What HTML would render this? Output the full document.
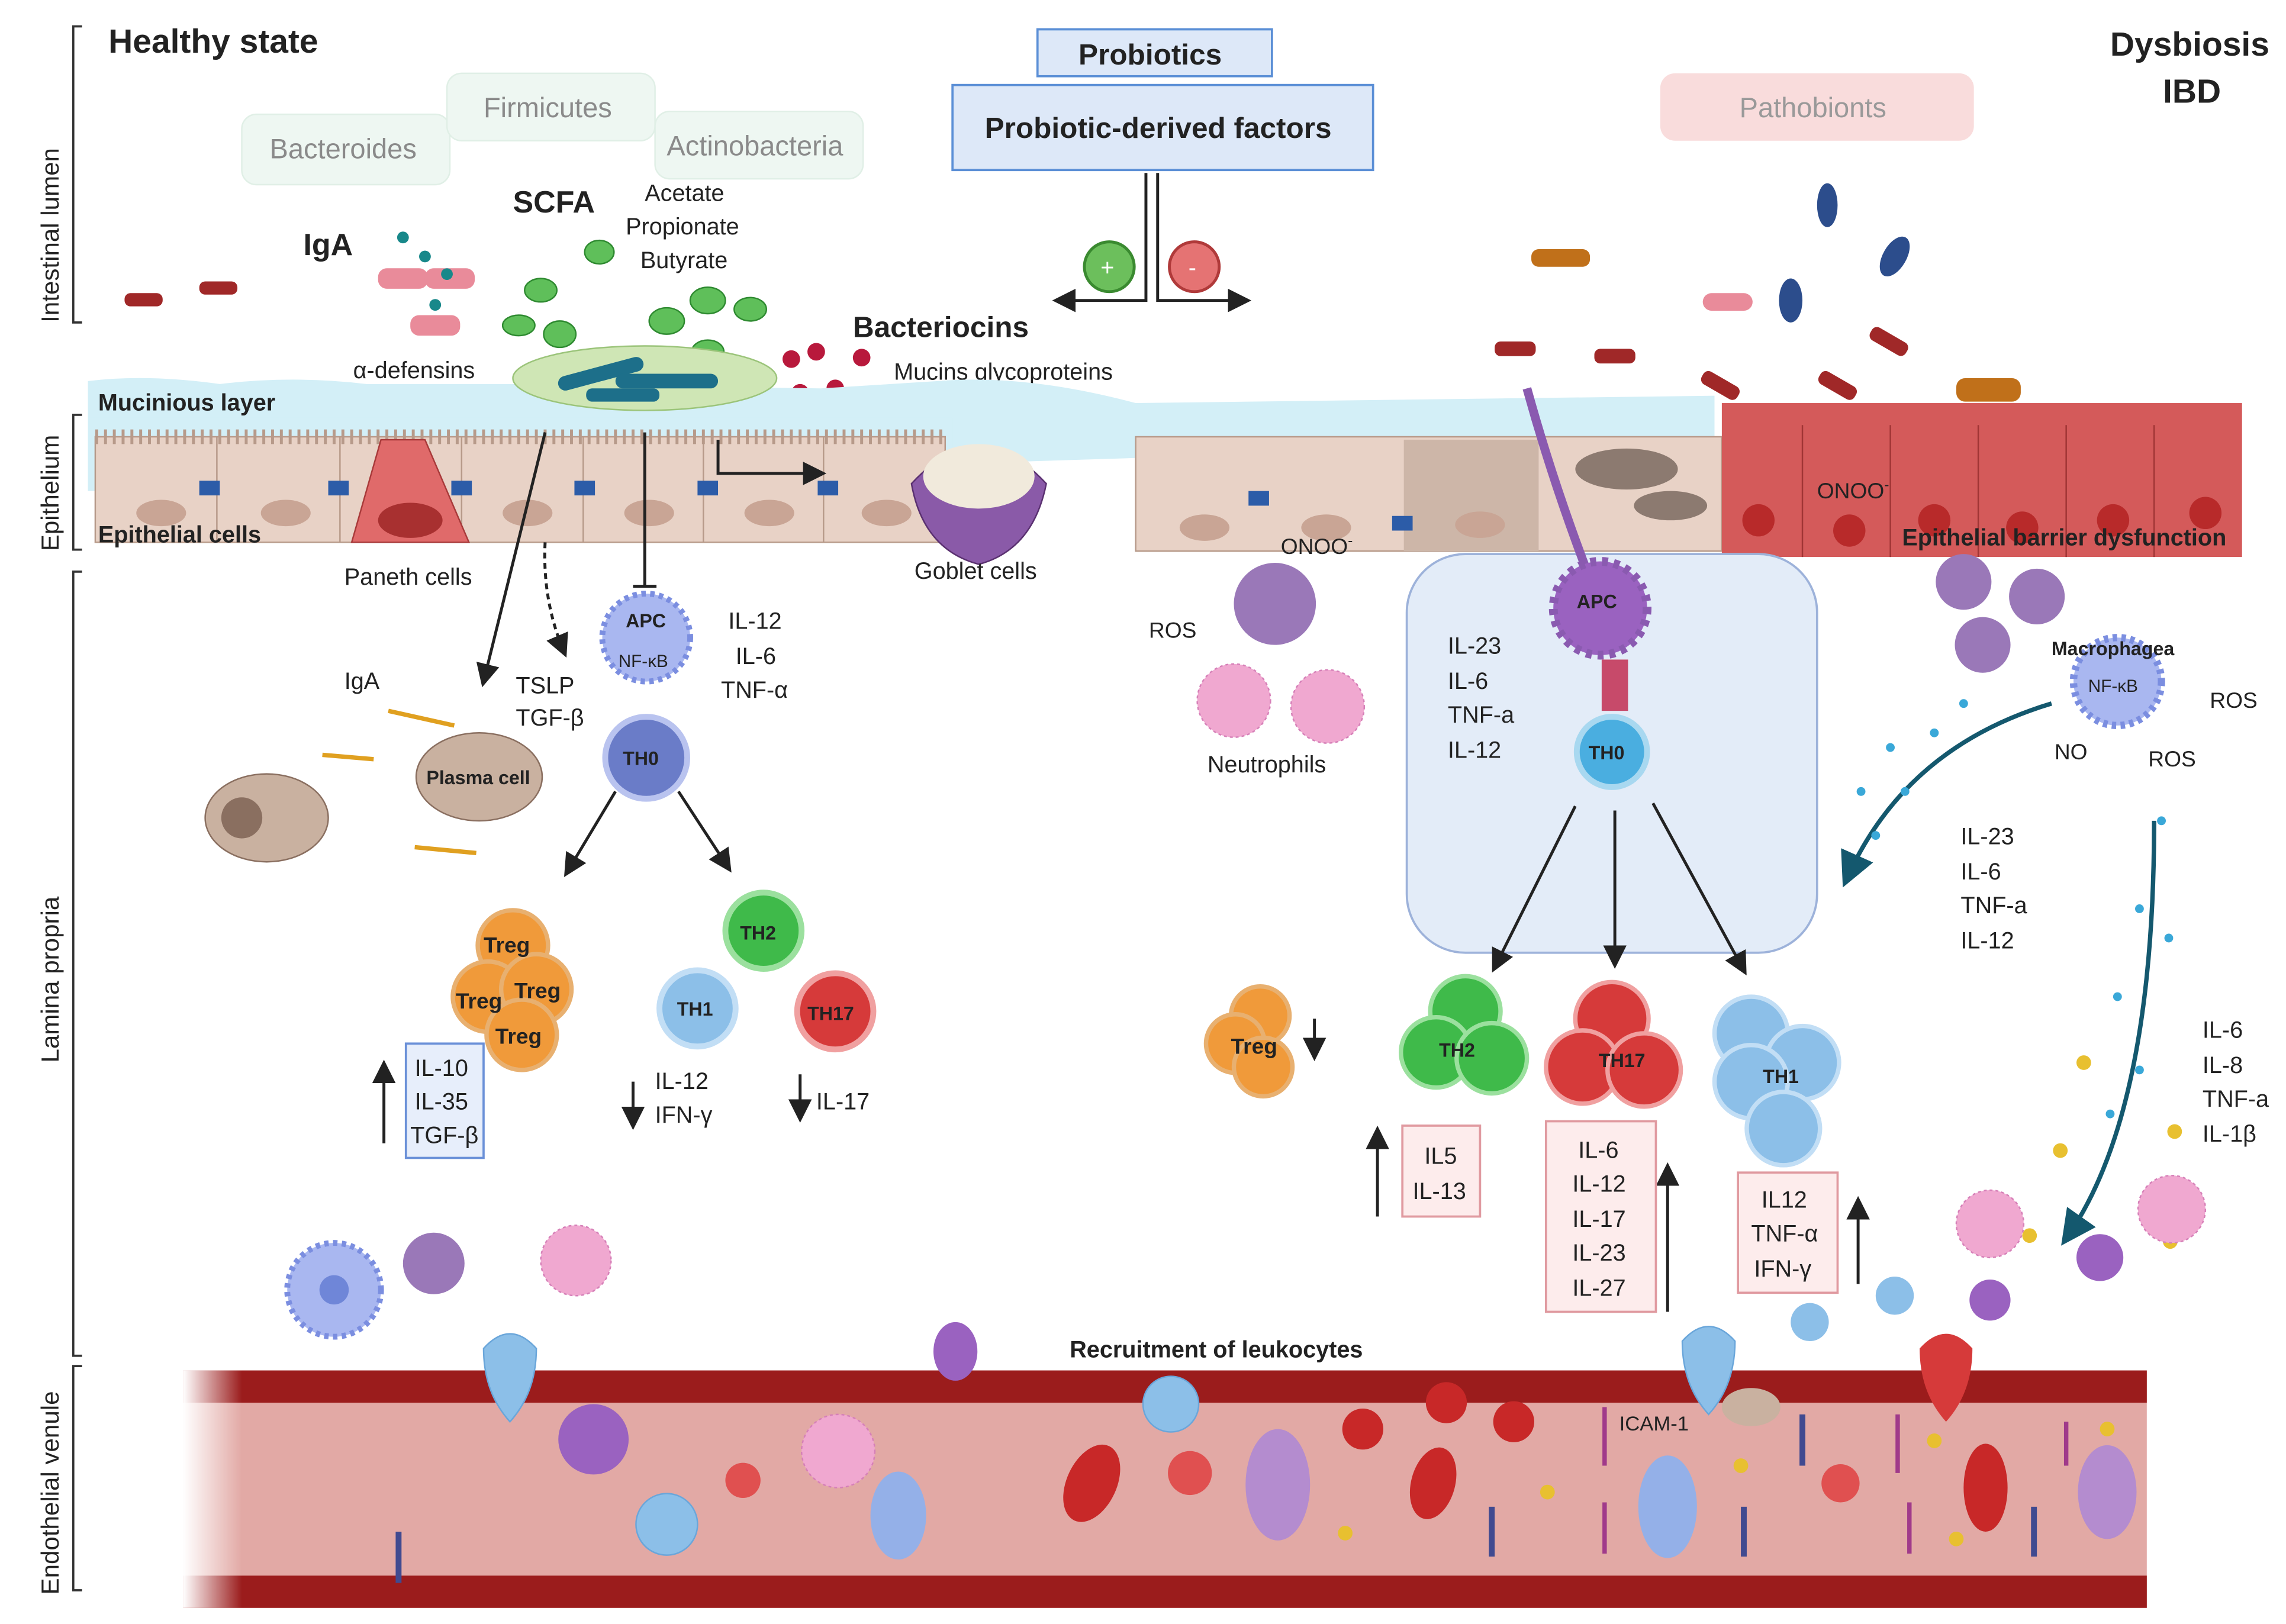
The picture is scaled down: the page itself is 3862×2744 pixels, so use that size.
<!DOCTYPE html>
<html><head><meta charset="utf-8"><style>
html,body{margin:0;padding:0;background:#fff;}
svg{display:block;}
text{font-family:"Liberation Sans",sans-serif;fill:#222;}
.b{font-weight:bold;}
</style></head><body>
<svg width="3862" height="2744" viewBox="0 0 1560 1108" preserveAspectRatio="none" xmlns="http://www.w3.org/2000/svg">
<defs>
<linearGradient id="vfade" x1="0" x2="1" y1="0" y2="0"><stop offset="0" stop-color="#fff" stop-opacity="1"/><stop offset="0.03" stop-color="#fff" stop-opacity="0"/></linearGradient>
<marker id="ar" markerWidth="8" markerHeight="8" refX="6" refY="4" orient="auto"><path d="M0,0 L8,4 L0,8 z" fill="#222"/></marker>
<marker id="art" markerWidth="8" markerHeight="8" refX="6" refY="4" orient="auto"><path d="M0,0 L8,4 L0,8 z" fill="#14586e"/></marker>
</defs>
<rect width="1560" height="1108" fill="#fff"/>
<!-- left axis -->
<g stroke="#333" stroke-width="1.5" fill="none">
<path d="M56,18 H50 V220 H56"/><path d="M56,283 H50 V375 H56"/><path d="M56,390 H50 V925 H56"/><path d="M56,932 H50 V1085 H56"/>
</g>
<text transform="translate(40,220) rotate(-90)" font-size="17">Intestinal lumen</text>
<text transform="translate(40,376) rotate(-90)" font-size="17">Epithelium</text>
<text transform="translate(40,725) rotate(-90)" font-size="17">Lamina propria</text>
<text transform="translate(40,1088) rotate(-90)" font-size="17">Endothelial  venule</text>
<text x="74" y="36" font-size="23" class="b">Healthy state</text>
<text x="1440" y="38" font-size="23" class="b">Dysbiosis</text>
<text x="1476" y="70" font-size="23" class="b">IBD</text>
<!-- bacteria label boxes -->
<rect x="165" y="78" width="142" height="48" rx="10" fill="#eef7f2" stroke="#e0efe6"/>
<text x="184" y="108" font-size="19" fill="#888" style="fill:#8a8a8a">Bacteroides</text>
<rect x="305" y="50" width="142" height="46" rx="10" fill="#eef7f2" stroke="#e0efe6"/>
<text x="330" y="80" font-size="19" style="fill:#8a8a8a">Firmicutes</text>
<rect x="447" y="76" width="142" height="46" rx="10" fill="#eef7f2" stroke="#e0efe6"/>
<text x="455" y="106" font-size="19" style="fill:#8a8a8a">Actinobacteria</text>
<rect x="1133" y="50" width="214" height="46" rx="10" fill="#f9dcdc"/>
<text x="1187" y="80" font-size="19" style="fill:#999">Pathobionts</text>
<!-- probiotics -->
<rect x="708" y="20" width="160" height="32" fill="#dde8f8" stroke="#5b8fd6" stroke-width="1.5"/>
<text x="736" y="44" font-size="20" class="b">Probiotics</text>
<rect x="650" y="58" width="287" height="58" fill="#dde8f8" stroke="#5b8fd6" stroke-width="1.5"/>
<text x="672" y="94" font-size="20" class="b">Probiotic-derived factors</text>
<g stroke="#222" stroke-width="2" fill="none">
<path d="M782,118 V205 H722" marker-end="url(#ar)"/><path d="M790,118 V205 H850" marker-end="url(#ar)"/>
</g>
<circle cx="757" cy="182" r="17" fill="#6cbf5c" stroke="#3a8a30" stroke-width="2"/><text x="751" y="188" font-size="16" style="fill:#fff">+</text>
<circle cx="815" cy="182" r="17" fill="#e57373" stroke="#b03a3a" stroke-width="2"/><text x="811" y="188" font-size="16" style="fill:#fff">-</text>
<!-- text labels lumen -->
<text x="207" y="174" font-size="21" class="b">IgA</text>
<text x="350" y="145" font-size="21" class="b">SCFA</text>
<text x="440" y="137" font-size="16">Acetate</text>
<text x="427" y="160" font-size="16">Propionate</text>
<text x="437" y="183" font-size="16">Butyrate</text>
<text x="582" y="230" font-size="20" class="b">Bacteriocins</text>
<text x="610" y="259" font-size="16">Mucins glycoproteins</text>
<text x="241" y="258" font-size="16">α-defensins</text>
<!-- bacteria -->
<g fill="#a02828">
<rect x="85" y="200" width="26" height="9" rx="4"/><rect x="136" y="192" width="26" height="9" rx="4"/>
<rect x="1020" y="233" width="28" height="10" rx="4"/><rect x="1088" y="238" width="28" height="10" rx="4"/>
<rect x="1160" y="258" width="28" height="10" rx="4" transform="rotate(30 1174 263)"/>
<rect x="1240" y="258" width="28" height="10" rx="4" transform="rotate(30 1254 263)"/>
<rect x="1275" y="228" width="28" height="10" rx="4" transform="rotate(30 1289 233)"/>
</g>
<rect x="1045" y="170" width="40" height="12" rx="5" fill="#c0701a"/>
<rect x="1335" y="258" width="44" height="16" rx="6" fill="#c0701a"/>
<rect x="1162" y="200" width="34" height="12" rx="6" fill="#e98b9a"/>
<g fill="#2c4d8c"><ellipse cx="1247" cy="140" rx="7" ry="15"/><ellipse cx="1222" cy="205" rx="8" ry="15"/><ellipse cx="1293" cy="175" rx="8" ry="15" transform="rotate(30 1293 175)"/></g>
<g fill="#e98b9a"><rect x="258" y="183" width="34" height="14" rx="6"/><rect x="290" y="183" width="34" height="14" rx="6"/><rect x="280" y="215" width="34" height="14" rx="6"/></g>
<g fill="#18888a"><circle cx="275" cy="162" r="4"/><circle cx="290" cy="175" r="4"/><circle cx="305" cy="187" r="4"/><circle cx="297" cy="208" r="4"/><circle cx="270" cy="275" r="4"/><circle cx="290" cy="292" r="4"/><circle cx="280" cy="305" r="4"/></g>
<g fill="#5fbf5a" stroke="#2e8a30"><ellipse cx="369" cy="198" rx="11" ry="8"/><ellipse cx="409" cy="172" rx="10" ry="8"/><ellipse cx="354" cy="222" rx="11" ry="7"/><ellipse cx="382" cy="228" rx="11" ry="9"/><ellipse cx="455" cy="219" rx="12" ry="9"/><ellipse cx="483" cy="205" rx="12" ry="9"/><ellipse cx="512" cy="211" rx="11" ry="8"/><ellipse cx="483" cy="240" rx="11" ry="8"/></g>
<g fill="#b8193c"><circle cx="540" cy="245" r="6"/><circle cx="557" cy="240" r="6"/><circle cx="570" cy="265" r="6"/><circle cx="546" cy="268" r="6"/><circle cx="588" cy="244" r="6"/></g>
<!-- mucus layer -->
<path d="M60,260 Q100,255 150,262 Q200,256 250,262 L350,262 L560,265 L640,260 Q700,255 775,275 L1170,270 L1170,300 L60,335 Z" fill="#d3eff7"/>
<rect x="60" y="285" width="590" height="50" fill="#d3eff7"/>
<text x="67" y="280" font-size="16" class="b">Mucinious layer</text>
<!-- epithelium left -->
<rect x="65" y="298" width="580" height="72" fill="#e8d2c6" stroke="#b79a8a"/>
<g stroke="#b79a8a"><line x1="148" y1="298" x2="148" y2="370"/><line x1="232" y1="298" x2="232" y2="370"/><line x1="315" y1="298" x2="315" y2="370"/><line x1="398" y1="298" x2="398" y2="370"/><line x1="480" y1="298" x2="480" y2="370"/><line x1="562" y1="298" x2="562" y2="370"/></g>
<g fill="#c9a595"><ellipse cx="110" cy="350" rx="17" ry="9"/><ellipse cx="195" cy="350" rx="17" ry="9"/><ellipse cx="360" cy="350" rx="17" ry="9"/><ellipse cx="443" cy="350" rx="17" ry="9"/><ellipse cx="525" cy="350" rx="17" ry="9"/><ellipse cx="605" cy="350" rx="17" ry="9"/></g>
<path d="M65,298 h580" stroke="#b79a8a" stroke-width="10" stroke-dasharray="2,4"/>
<path d="M240,370 L260,300 L290,300 L320,370 Z" fill="#e06a6a" stroke="#a83a3a"/><ellipse cx="280" cy="355" rx="22" ry="12" fill="#a83030"/>
<path d="M622,330 Q668,280 714,330 Q705,375 668,385 Q630,375 622,330Z" fill="#8a5aa8" stroke="#5a3070"/><ellipse cx="668" cy="325" rx="38" ry="22" fill="#f1eadc"/>
<text x="67" y="370" font-size="16" class="b">Epithelial cells</text>
<text x="235" y="399" font-size="16">Paneth cells</text>
<text x="624" y="395" font-size="16">Goblet cells</text>
<!-- SCFA bacteria blob -->
<ellipse cx="440" cy="258" rx="90" ry="22" fill="#cfe6b5" stroke="#9bc47a"/>
<g fill="#1d6f8a"><rect x="380" y="250" width="60" height="10" rx="5" transform="rotate(-15 410 255)"/><rect x="420" y="255" width="70" height="10" rx="5"/><rect x="400" y="265" width="50" height="9" rx="4"/></g>
<!-- epithelium right -->
<rect x="775" y="298" width="400" height="78" fill="#e8d2c6" stroke="#b79a8a"/>
<rect x="958" y="300" width="92" height="76" fill="#cdb6a8"/>
<g fill="#c9a595"><ellipse cx="822" cy="360" rx="17" ry="9"/><ellipse cx="905" cy="360" rx="17" ry="9"/><ellipse cx="1010" cy="358" rx="17" ry="9"/></g>
<g fill="#8c7a70"><ellipse cx="1110" cy="320" rx="35" ry="14"/><ellipse cx="1140" cy="345" rx="25" ry="10"/></g>
<rect x="1175" y="275" width="355" height="105" fill="#d45a5a"/>
<g stroke="#a03535"><line x1="1230" y1="290" x2="1230" y2="380"/><line x1="1290" y1="290" x2="1290" y2="380"/><line x1="1350" y1="290" x2="1350" y2="380"/><line x1="1410" y1="290" x2="1410" y2="380"/><line x1="1470" y1="290" x2="1470" y2="380"/></g>
<g fill="#b82a2a"><circle cx="1200" cy="355" r="11"/><circle cx="1262" cy="362" r="11"/><circle cx="1320" cy="355" r="11"/><circle cx="1380" cy="360" r="11"/><circle cx="1442" cy="355" r="11"/><circle cx="1505" cy="350" r="11"/></g>
<text x="1240" y="340" font-size="15">ONOO<tspan font-size="10" dy="-6">-</tspan></text>
<text x="1298" y="372" font-size="16" class="b">Epithelial barrier dysfunction</text>
<!-- arrows healthy -->
<g stroke="#222" stroke-width="2" fill="none">
<line x1="372" y1="295" x2="330" y2="465" marker-end="url(#ar)"/>
<path d="M372,370 Q370,410 385,445" stroke-dasharray="4,3" marker-end="url(#ar)"/>
<line x1="440" y1="295" x2="440" y2="400"/><line x1="432" y1="400" x2="448" y2="400"/>
<path d="M490,300 V323 H560" marker-end="url(#ar)"/>
<line x1="420" y1="540" x2="387" y2="595" marker-end="url(#ar)"/><line x1="463" y1="540" x2="497" y2="592" marker-end="url(#ar)"/>
<line x1="262" y1="780" x2="262" y2="727" marker-end="url(#ar)"/>
<line x1="432" y1="738" x2="432" y2="767" marker-end="url(#ar)"/>
<line x1="546" y1="733" x2="546" y2="762" marker-end="url(#ar)"/>
<line x1="940" y1="830" x2="940" y2="772" marker-end="url(#ar)"/>
<line x1="1138" y1="895" x2="1138" y2="797" marker-end="url(#ar)"/>
<line x1="1268" y1="876" x2="1268" y2="820" marker-end="url(#ar)"/>
<line x1="897" y1="695" x2="897" y2="720" marker-end="url(#ar)"/>
</g>
<!-- APC healthy -->
<circle cx="441" cy="435" r="30" fill="#a9b7f0" stroke="#7b8ee0" stroke-width="4" stroke-dasharray="3,3"/>
<text x="427" y="428" font-size="13" class="b">APC</text><text x="422" y="455" font-size="12">NF-κB</text>
<text x="497" y="429" font-size="16">IL-12</text><text x="502" y="453" font-size="16">IL-6</text><text x="492" y="476" font-size="16">TNF-α</text>
<text x="352" y="473" font-size="16">TSLP</text><text x="352" y="495" font-size="16">TGF-β</text>
<text x="235" y="470" font-size="16">IgA</text>
<circle cx="441" cy="517" r="28" fill="#6a7cc8" stroke="#b9c3ef" stroke-width="4"/><text x="425" y="522" font-size="13" class="b">TH0</text>
<ellipse cx="182" cy="558" rx="42" ry="30" fill="#c9b1a0" stroke="#8a6f60"/><circle cx="165" cy="558" r="14" fill="#8a6f60"/>
<ellipse cx="327" cy="530" rx="43" ry="30" fill="#c9b1a0" stroke="#8a6f60"/><text x="291" y="535" font-size="13" class="b">Plasma cell</text>
<g stroke="#e0a020" stroke-width="3"><line x1="265" y1="485" x2="310" y2="495"/><line x1="220" y1="515" x2="255" y2="518"/><line x1="283" y1="578" x2="325" y2="582"/></g>
<!-- Tregs -->
<g fill="#f09a3a" stroke="#e8b070" stroke-width="3"><circle cx="350" cy="645" r="24"/><circle cx="333" cy="680" r="24"/><circle cx="366" cy="675" r="24"/><circle cx="356" cy="706" r="24"/></g>
<text x="330" y="650" font-size="15" class="b">Treg</text><text x="311" y="688" font-size="15" class="b">Treg</text><text x="351" y="681" font-size="15" class="b">Treg</text><text x="338" y="712" font-size="15" class="b">Treg</text>
<rect x="277" y="712" width="53" height="78" fill="#e7eefb" stroke="#6a90d8" stroke-width="1.5"/>
<text x="283" y="734" font-size="16">IL-10</text><text x="283" y="757" font-size="16">IL-35</text><text x="280" y="780" font-size="16">TGF-β</text>
<circle cx="521" cy="635" r="26" fill="#3fba4a" stroke="#9be09e" stroke-width="4"/><text x="505" y="641" font-size="13" class="b">TH2</text>
<circle cx="476" cy="688" r="26" fill="#8cbfe8" stroke="#c2def5" stroke-width="4"/><text x="462" y="693" font-size="13" class="b">TH1</text>
<circle cx="570" cy="690" r="26" fill="#d63a3a" stroke="#f0a0a0" stroke-width="4"/><text x="551" y="696" font-size="13" class="b">TH17</text>
<text x="447" y="743" font-size="16">IL-12</text><text x="447" y="766" font-size="16">IFN-γ</text><text x="557" y="757" font-size="16">IL-17</text>
<!-- lamina cells -->
<circle cx="228" cy="880" r="32" fill="#a9b7f0" stroke="#7b8ee0" stroke-width="4" stroke-dasharray="3,3"/><circle cx="228" cy="880" r="10" fill="#6f86d8"/>
<circle cx="296" cy="862" r="21" fill="#9a78b8"/>
<circle cx="393" cy="860" r="24" fill="#f0a8d0" stroke="#d680b8" stroke-dasharray="2,2"/>
<!-- Dysbiosis side -->
<rect x="960" y="378" width="280" height="272" rx="40" fill="#e3ecf8" stroke="#9db2da" stroke-width="1.5"/>
<path d="M1042,265 Q1060,330 1085,395" stroke="#8a5ab0" stroke-width="6" fill="none"/>
<circle cx="1092" cy="415" r="32" fill="#9a62c0" stroke="#8a5ab0" stroke-width="6" stroke-dasharray="4,4"/><text x="1076" y="415" font-size="13" class="b">APC</text>
<rect x="1093" y="450" width="18" height="35" fill="#c74a6a"/>
<circle cx="1100" cy="513" r="24" fill="#4aaee0" stroke="#a8d8f0" stroke-width="4"/><text x="1084" y="518" font-size="13" class="b">TH0</text>
<text x="988" y="446" font-size="16">IL-23</text><text x="988" y="470" font-size="16">IL-6</text><text x="988" y="493" font-size="16">TNF-a</text><text x="988" y="517" font-size="16">IL-12</text>
<g stroke="#222" stroke-width="2"><line x1="1075" y1="550" x2="1020" y2="660" marker-end="url(#ar)"/><line x1="1102" y1="553" x2="1102" y2="657" marker-end="url(#ar)"/><line x1="1128" y1="548" x2="1190" y2="662" marker-end="url(#ar)"/></g>
<circle cx="870" cy="412" r="28" fill="#9a78b8"/><text x="874" y="378" font-size="15">ONOO<tspan font-size="10" dy="-6">-</tspan></text>
<text x="784" y="435" font-size="15">ROS</text>
<circle cx="842" cy="478" r="25" fill="#f0a8d0" stroke="#d680b8" stroke-dasharray="2,2"/><circle cx="906" cy="482" r="25" fill="#f0a8d0" stroke="#d680b8" stroke-dasharray="2,2"/>
<text x="824" y="527" font-size="16">Neutrophils</text>
<g fill="#f09a3a" stroke="#e8b070" stroke-width="3"><circle cx="860" cy="693" r="20"/><circle cx="843" cy="712" r="20"/><circle cx="862" cy="728" r="20"/></g><text x="840" y="719" font-size="15" class="b">Treg</text>
<g fill="#3fba4a" stroke="#9be09e" stroke-width="3"><circle cx="1000" cy="690" r="24"/><circle cx="980" cy="718" r="24"/><circle cx="1018" cy="722" r="24"/></g><text x="982" y="721" font-size="13" class="b">TH2</text>
<g fill="#d63a3a" stroke="#f0a0a0" stroke-width="3"><circle cx="1100" cy="695" r="25"/><circle cx="1080" cy="728" r="25"/><circle cx="1122" cy="730" r="25"/></g><text x="1091" y="728" font-size="13" class="b">TH17</text>
<g fill="#8cbfe8" stroke="#c2def5" stroke-width="3"><circle cx="1195" cy="705" r="25"/><circle cx="1230" cy="725" r="25"/><circle cx="1195" cy="738" r="25"/><circle cx="1217" cy="770" r="25"/></g><text x="1203" y="739" font-size="13" class="b">TH1</text>
<rect x="957" y="768" width="53" height="62" fill="#fdecec" stroke="#e09aa0" stroke-width="1.5"/><text x="972" y="794" font-size="16">IL5</text><text x="964" y="818" font-size="16">IL-13</text>
<rect x="1055" y="765" width="75" height="130" fill="#fdecec" stroke="#e09aa0" stroke-width="1.5"/>
<text x="1077" y="790" font-size="16">IL-6</text><text x="1073" y="813" font-size="16">IL-12</text><text x="1073" y="837" font-size="16">IL-17</text><text x="1073" y="860" font-size="16">IL-23</text><text x="1073" y="884" font-size="16">IL-27</text>
<rect x="1186" y="800" width="68" height="82" fill="#fdecec" stroke="#e09aa0" stroke-width="1.5"/><text x="1202" y="824" font-size="16">IL12</text><text x="1195" y="847" font-size="16">TNF-α</text><text x="1197" y="871" font-size="16">IFN-γ</text>
<!-- macrophage -->
<g fill="#9a78b8"><circle cx="1340" cy="397" r="19"/><circle cx="1390" cy="407" r="19"/><circle cx="1353" cy="440" r="19"/></g>
<circle cx="1445" cy="465" r="30" fill="#a9b7f0" stroke="#7b8ee0" stroke-width="5" stroke-dasharray="3,3"/>
<text x="1400" y="447" font-size="13" class="b">Macrophagea</text><text x="1425" y="472" font-size="12">NF-κB</text>
<text x="1508" y="483" font-size="15">ROS</text><text x="1402" y="518" font-size="15">NO</text><text x="1466" y="523" font-size="15">ROS</text>
<path d="M1400,480 Q1300,510 1260,600" stroke="#14586e" stroke-width="3" fill="none" marker-end="url(#art)"/>
<path d="M1470,560 Q1470,760 1410,845" stroke="#14586e" stroke-width="3" fill="none" marker-end="url(#art)"/>
<g fill="#3aa8d8"><circle cx="1290" cy="510" r="3"/><circle cx="1320" cy="500" r="3"/><circle cx="1270" cy="540" r="3"/><circle cx="1300" cy="540" r="3"/><circle cx="1280" cy="570" r="3"/><circle cx="1340" cy="480" r="3"/><circle cx="1475" cy="560" r="3"/><circle cx="1460" cy="620" r="3"/><circle cx="1480" cy="640" r="3"/><circle cx="1445" cy="680" r="3"/><circle cx="1460" cy="730" r="3"/><circle cx="1440" cy="760" r="3"/></g>
<text x="1338" y="576" font-size="16">IL-23</text><text x="1338" y="600" font-size="16">IL-6</text><text x="1338" y="623" font-size="16">TNF-a</text><text x="1338" y="647" font-size="16">IL-12</text>
<text x="1503" y="708" font-size="16">IL-6</text><text x="1503" y="732" font-size="16">IL-8</text><text x="1503" y="755" font-size="16">TNF-a</text><text x="1503" y="779" font-size="16">IL-1β</text>
<g fill="#e8c030"><circle cx="1422" cy="725" r="5"/><circle cx="1484" cy="772" r="5"/><circle cx="1406" cy="785" r="5"/><circle cx="1385" cy="843" r="5"/><circle cx="1481" cy="847" r="5"/></g>
<circle cx="1358" cy="835" r="23" fill="#f0a8d0" stroke="#d680b8" stroke-dasharray="2,2"/><circle cx="1482" cy="825" r="23" fill="#f0a8d0" stroke="#d680b8" stroke-dasharray="2,2"/>
<circle cx="1433" cy="858" r="16" fill="#9a62c0"/><circle cx="1358" cy="887" r="14" fill="#9a62c0"/>
<circle cx="1293" cy="884" r="13" fill="#8cbfe8"/><circle cx="1235" cy="902" r="13" fill="#8cbfe8"/>
<!-- vessel -->
<rect x="125" y="935" width="1340" height="162" fill="#e2a9a5"/>
<rect x="125" y="935" width="1340" height="22" fill="#9b1c1c"/>
<rect x="125" y="1075" width="1340" height="22" fill="#9b1c1c"/>
<rect x="125" y="935" width="1340" height="162" fill="url(#vfade)"/>
<text x="730" y="926" font-size="16" class="b">Recruitment of leukocytes</text>
<text x="1105" y="976" font-size="14">ICAM-1</text>
<g fill="#8cbfe8" stroke="#6aa6da"><path d="M330,920 q18,-20 36,0 q0,30 -18,50 q-18,-20 -18,-50z"/><path d="M1148,915 q18,-20 36,0 q0,30 -18,50 q-18,-20 -18,-50z"/><circle cx="799" cy="958" r="19"/><circle cx="455" cy="1040" r="21"/></g>
<path d="M1310,920 q18,-20 36,0 q0,30 -18,50 q-18,-20 -18,-50z" fill="#d63a3a"/>
<g fill="#c82828"><ellipse cx="745" cy="1012" rx="17" ry="28" transform="rotate(25 745 1012)"/><ellipse cx="978" cy="1012" rx="15" ry="25" transform="rotate(15 978 1012)"/><ellipse cx="1355" cy="1015" rx="15" ry="30"/><circle cx="930" cy="975" r="14"/><circle cx="987" cy="957" r="14"/><circle cx="1033" cy="970" r="14"/></g>
<g fill="#9a62c0"><circle cx="405" cy="982" r="24"/><ellipse cx="872" cy="1013" rx="22" ry="38" fill="#b48ccf"/><ellipse cx="1438" cy="1018" rx="20" ry="32" fill="#b48ccf"/><ellipse cx="652" cy="922" rx="15" ry="20"/></g>
<circle cx="572" cy="990" r="25" fill="#f0a8d0" stroke="#d680b8" stroke-dasharray="2,2"/>
<g fill="#94b0e8"><ellipse cx="613" cy="1034" rx="19" ry="30"/><ellipse cx="1138" cy="1028" rx="20" ry="35"/></g>
<g fill="#e05050"><circle cx="507" cy="1010" r="12"/><circle cx="812" cy="1005" r="15"/><circle cx="1256" cy="1012" r="13"/></g>
<ellipse cx="1195" cy="960" rx="20" ry="13" fill="#c9b1a0"/>
<g fill="#e8c030"><circle cx="918" cy="1046" r="5"/><circle cx="1056" cy="1018" r="5"/><circle cx="1188" cy="1000" r="5"/><circle cx="1320" cy="983" r="5"/><circle cx="1335" cy="1050" r="5"/><circle cx="1438" cy="975" r="5"/></g>
<g stroke="#a03a8a" stroke-width="3"><line x1="1095" y1="960" x2="1095" y2="1000"/><line x1="1295" y1="965" x2="1295" y2="1005"/><line x1="1410" y1="970" x2="1410" y2="1000"/><line x1="1095" y1="1025" x2="1095" y2="1060"/><line x1="1303" y1="1025" x2="1303" y2="1060"/></g>
<g stroke="#404a90" stroke-width="4"><line x1="1230" y1="965" x2="1230" y2="1000"/><line x1="1018" y1="1028" x2="1018" y2="1062"/><line x1="1190" y1="1028" x2="1190" y2="1062"/><line x1="1388" y1="1028" x2="1388" y2="1062"/><line x1="272" y1="1045" x2="272" y2="1080"/></g>
<!-- blue tight junctions -->
<g fill="#2c5ca8"><rect x="136" y="328" width="14" height="10"/><rect x="224" y="328" width="14" height="10"/><rect x="308" y="328" width="14" height="10"/><rect x="392" y="328" width="14" height="10"/><rect x="476" y="328" width="14" height="10"/><rect x="558" y="328" width="14" height="10"/><rect x="852" y="335" width="14" height="10"/><rect x="950" y="352" width="14" height="10"/></g>
</svg>
</body></html>
